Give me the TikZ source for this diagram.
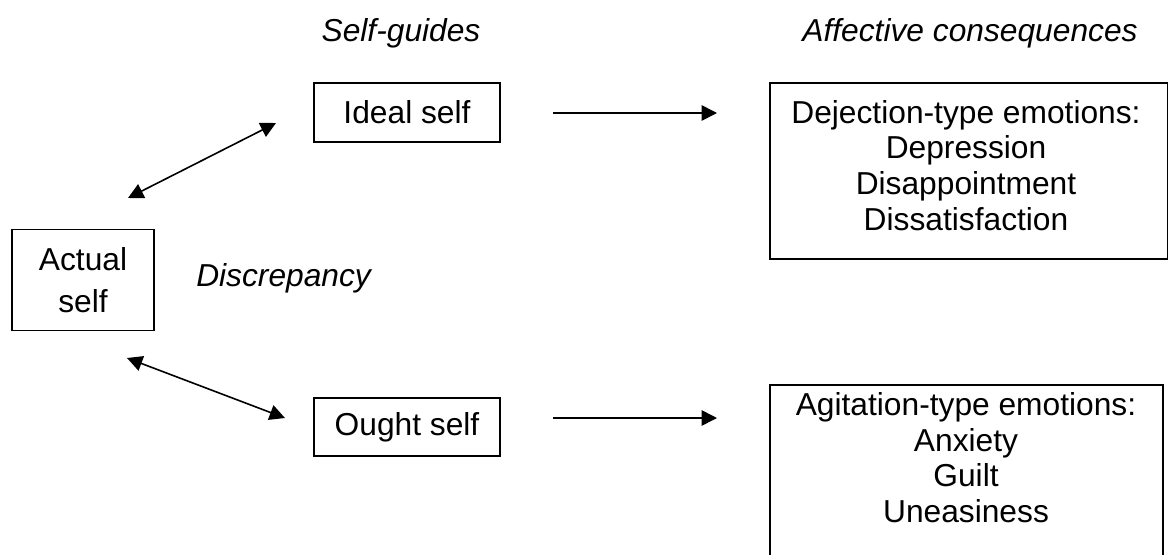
\documentclass[tikz,border=0pt]{standalone}
\usepackage{fontspec}
\setmainfont{Liberation Sans}
\usetikzlibrary{arrows.meta}
\begin{document}
\begin{tikzpicture}[x=0.75pt,y=-0.75pt,
  box/.style={draw,line width=0.8pt,inner sep=0pt,align=center,
    font=\fontsize{23.8pt}{26.6pt}\selectfont},
  txt/.style={inner sep=0pt,align=center,anchor=north,
    font=\fontsize{23.8pt}{26.8pt}\selectfont},
  lbl/.style={inner sep=0pt,font=\fontsize{23.8pt}{26.6pt}\selectfont\itshape},
  conn/.style={line width=1.2pt,{Triangle[length=11.5pt,width=11.5pt]}-{Triangle[length=11.5pt,width=11.5pt]}},
  fwd/.style={line width=1.2pt,-{Triangle[length=11.5pt,width=11.5pt]}}]
\useasboundingbox (0,0) rectangle (1168,554);
\clip (0,0) rectangle (1168,554);
% headings
\node[lbl] (sg) at (401,33) {Self-guides};
\node[lbl] (ac) at (970,33) {Affective consequences};
\node[lbl,anchor=west] (disc) at (196,278) {Discrepancy};
% boxes
\node[box,font=\fontsize{23.8pt}{31.5pt}\selectfont,minimum width=142*0.75pt,minimum height=101*0.75pt] (actual) at (83,280) {Actual\\self};
\node[box,minimum width=186*0.75pt,minimum height=59*0.75pt] (ideal) at (407,112.5) {Ideal self};
\node[box,minimum width=186*0.75pt,minimum height=58*0.75pt] (ought) at (407,427) {Ought self};
\node[box,minimum width=398*0.75pt,minimum height=176*0.75pt] (dej) at (969,171) {};
\node[txt] (dejt) at (966,100)
  {Dejection-type emotions:\\Depression\\Disappointment\\Dissatisfaction};
\node[box,minimum width=393*0.75pt,minimum height=190*0.75pt] (agi) at (966.5,480) {};
\node[txt] (agit) at (966,392)
  {Agitation-type emotions:\\Anxiety\\Guilt\\Uneasiness};
% connector end points
\coordinate (a1) at (128,198);
\coordinate (i1) at (276,123);
\coordinate (a2) at (127,358);
\coordinate (o1) at (285,418);
\coordinate (i2) at (553,113);
\coordinate (d1) at (717,113);
\coordinate (o2) at (553,418);
\coordinate (g1) at (717,418);
\draw[conn] (a1) -- (i1);
\draw[conn] (a2) -- (o1);
\draw[fwd] (i2) -- (d1);
\draw[fwd] (o2) -- (g1);
\end{tikzpicture}
\end{document}
